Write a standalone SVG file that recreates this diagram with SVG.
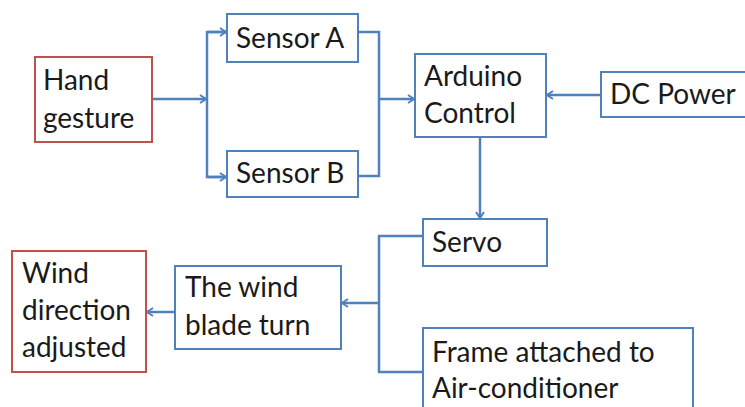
<svg xmlns="http://www.w3.org/2000/svg" width="745" height="407" viewBox="0 0 745 407">
<style>
.box{fill:#fff;stroke:#4F81BD;stroke-width:2}
.red{fill:#fff;stroke:#C0504D;stroke-width:2}
.t{font-family:Lato,"Open Sans","Liberation Sans",sans-serif;font-size:28px;fill:#1a1a1a}
.c{fill:none;stroke:#4F81BD;stroke-width:2.5}
</style>
<defs>
<marker id="ah" viewBox="0 0 10 10" refX="9" refY="5" markerWidth="10" markerHeight="10" markerUnits="userSpaceOnUse" orient="auto">
<path d="M3,1 L9,5 L3,9" fill="none" stroke="#4F81BD" stroke-width="2"/>
</marker>
</defs>
<rect width="745" height="407" fill="#fff"/>
<g id="connectors">
<path class="c" d="M152,99 H206" marker-end="url(#ah)"/>
<path class="c" d="M226,32 H207 V177 H226" />
<path class="c" d="M208,32 H226" marker-end="url(#ah)"/>
<path class="c" d="M208,177 H226" marker-end="url(#ah)"/>
<path class="c" d="M358,32 H379 V176 H358"/>
<path class="c" d="M379,99 H414" marker-end="url(#ah)"/>
<path class="c" d="M601,95 H547" marker-end="url(#ah)"/>
<path class="c" d="M480,137 V218" marker-end="url(#ah)"/>
<path class="c" d="M423,236 H379 V372 H423"/>
<path class="c" d="M379,303 H342" marker-end="url(#ah)"/>
<path class="c" d="M175,312 H147" marker-end="url(#ah)"/>
</g>
<g id="hand-gesture">
<rect class="red" x="35" y="57" width="117" height="85"/>
<text class="t" x="43" y="90">Hand</text>
<text class="t" x="43" y="128">gesture</text>
</g>
<g id="sensor-a">
<rect class="box" x="227" y="14" width="131" height="48"/>
<text class="t" x="236" y="48">Sensor A</text>
</g>
<g id="sensor-b">
<rect class="box" x="227" y="151" width="131" height="46"/>
<text class="t" x="236" y="183">Sensor B</text>
</g>
<g id="arduino">
<rect class="box" x="415" y="54" width="131" height="83"/>
<text class="t" x="424" y="86">Arduino</text>
<text class="t" x="424" y="123">Control</text>
</g>
<g id="dc-power">
<rect class="box" x="601" y="72" width="160" height="45"/>
<text class="t" x="610" y="104">DC Power</text>
</g>
<g id="servo">
<rect class="box" x="423" y="219" width="124" height="47"/>
<text class="t" x="432" y="252">Servo</text>
</g>
<g id="frame">
<rect class="box" x="423" y="328" width="270" height="100"/>
<text class="t" x="432" y="362">Frame attached to</text>
<text class="t" x="432" y="398">Air-conditioner</text>
</g>
<g id="wind-blade">
<rect class="box" x="175" y="266" width="166" height="83"/>
<text class="t" x="185" y="297">The wind</text>
<text class="t" x="185" y="335">blade turn</text>
</g>
<g id="wind-direction">
<rect class="red" x="12" y="251" width="134" height="121"/>
<text class="t" x="22" y="283">Wind</text>
<text class="t" x="22" y="320">direction</text>
<text class="t" x="22" y="357">adjusted</text>
</g>
</svg>
